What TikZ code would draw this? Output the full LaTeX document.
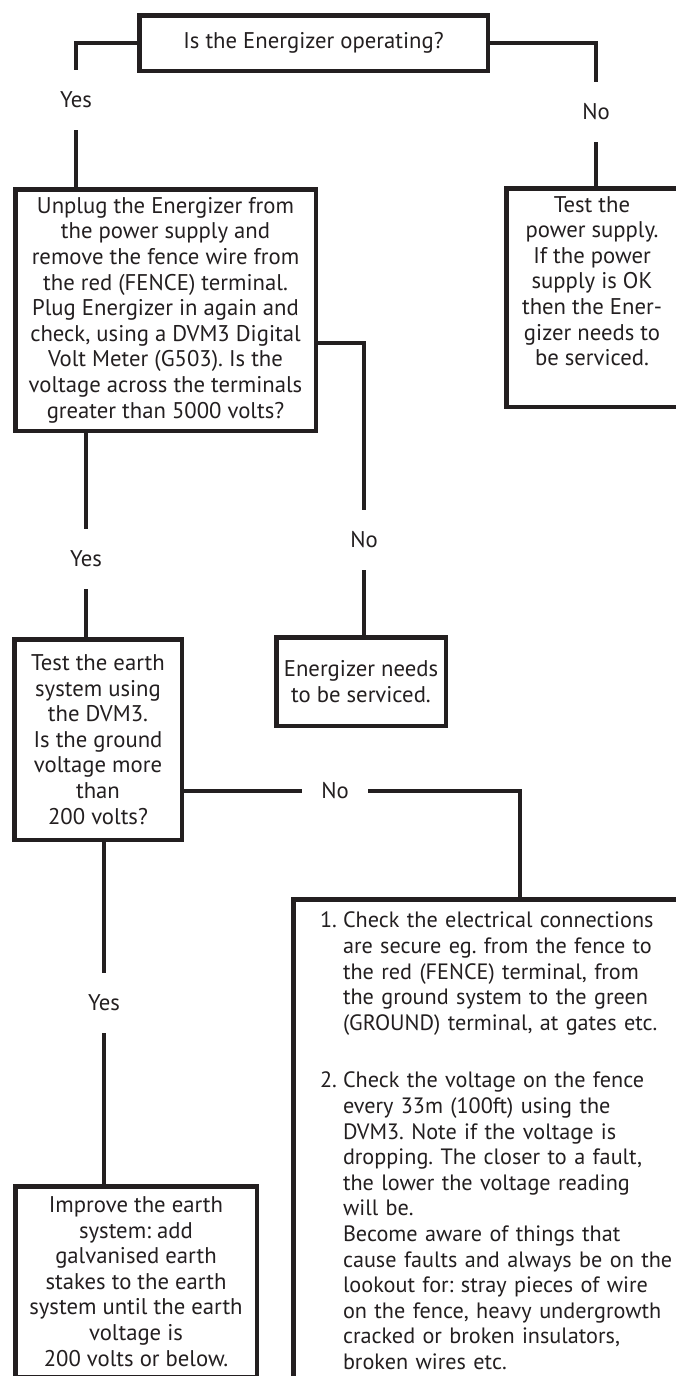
\documentclass[tikz,border=0pt]{standalone}
\usepackage{fontspec}
\setmainfont{PT Sans}
\definecolor{ink}{RGB}{35,31,32}
\tikzset{
  box/.style={draw, line width=4.5pt, inner sep=0pt, align=center, font=\fontsize{22.7}{25.6}\selectfont},
  txt/.style={inner sep=0pt, align=center, font=\fontsize{22.7}{25.6}\selectfont},
  lbl/.style={minimum width=62pt, minimum height=56pt, inner sep=0pt, font=\fontsize{22.7}{25.6}\selectfont}
}
\frenchspacing

\begin{document}
\begin{tikzpicture}[x=1pt, y=-1pt, line width=4.5pt, color=ink]
  \path[use as bounding box, fill=white] (0,0) rectangle (675,1376);

  \node[box, minimum width=348.5pt, minimum height=55.5pt] (Q1) at (313.5,43) {Is the Energizer operating?};
  \node[lbl] (Y1) at (76,100) {Yes};
  \node[lbl] (N1) at (596,112) {No};

  \node[box, minimum width=300.5pt, minimum height=241.5pt] (UNP) at (165.5,310) {Unplug the Energizer from\\ the power supply and\\ remove the fence wire from\\ the red (FENCE) terminal.\\ Plug Energizer in again and\\ check, using a DVM3 Digital\\ Volt Meter (G503). Is the\\ voltage across the terminals\\ greater than 5000 volts?};
  \node[box, minimum width=171.5pt, minimum height=218.5pt] (PWR) at (592,297.5) {};
  \node[txt, anchor=north] (PWRT) at (592,194) {Test the\\ power supply.\\ If the power\\ supply is OK\\ then the Ener-\\ gizer needs to\\ be serviced.};

  \node[lbl] (Y2) at (86,559) {Yes};
  \node[lbl] (N2) at (364,540) {No};

  \node[box, minimum width=167.5pt, minimum height=200.5pt] (EARTH) at (98,739.5) {Test the earth\\ system using\\ the DVM3.\\ Is the ground\\ voltage more\\ than\\ 200 volts?};
  \node[box, minimum width=169.5pt, minimum height=88.5pt] (SERV) at (361,681.5) {Energizer needs\\ to be serviced.};
  \node[lbl] (N3) at (335,791) {No};
  \node[lbl] (Y3) at (104,1003) {Yes};

  \node[box, minimum width=241.5pt, minimum height=190.5pt] (IMP) at (136,1281.5) {Improve the earth\\ system: add\\ galvanised earth\\ stakes to the earth\\ system until the earth\\ voltage is\\ 200 volts or below.};
  \node[box, align=left, text width=400pt, minimum width=453.5pt, minimum height=483.5pt, font=\fontsize{22.2}{25.6}\selectfont] (FIX) at (520,1141) {\makebox[23pt][l]{1.}Check the electrical connections\\ \hspace*{23pt}are secure eg. from the fence to\\ \hspace*{23pt}the red (FENCE) terminal, from\\ \hspace*{23pt}the ground system to the green\\ \hspace*{23pt}(GROUND) terminal, at gates etc.\\[32pt] \makebox[23pt][l]{2.}Check the voltage on the fence\\ \hspace*{23pt}every 33m (100ft) using the\\ \hspace*{23pt}DVM3. Note if the voltage is\\ \hspace*{23pt}dropping. The closer to a fault,\\ \hspace*{23pt}the lower the voltage reading\\ \hspace*{23pt}will be.\\ \hspace*{23pt}Become aware of things that\\ \hspace*{23pt}cause faults and always be on the\\ \hspace*{23pt}lookout for: stray pieces of wire\\ \hspace*{23pt}on the fence, heavy undergrowth\\ \hspace*{23pt}cracked or broken insulators,\\ \hspace*{23pt}broken wires etc.};

  \draw (Q1.west) -| (Y1.north);
  \draw (Y1.south) -- (Y1.south |- UNP.north);
  \draw (Q1.east) -| (N1.north);
  \draw (N1.south) -- (N1.south |- PWR.north);
  \draw (UNP.south -| Y2) -- (Y2.north);
  \draw (Y2.south) -- (Y2.south |- EARTH.north);
  \draw ([yshift=-33pt]UNP.east) -| (N2.north);
  \draw (N2.south) -- (N2.south |- SERV.north);
  \draw (EARTH.south -| Y3) -- (Y3.north);
  \draw (Y3.south) -- (Y3.south |- IMP.north);
  \draw (N3.west -| EARTH.east) -- (N3.west);
  \draw (N3.east) -| (FIX.north);
\end{tikzpicture}
\end{document}
